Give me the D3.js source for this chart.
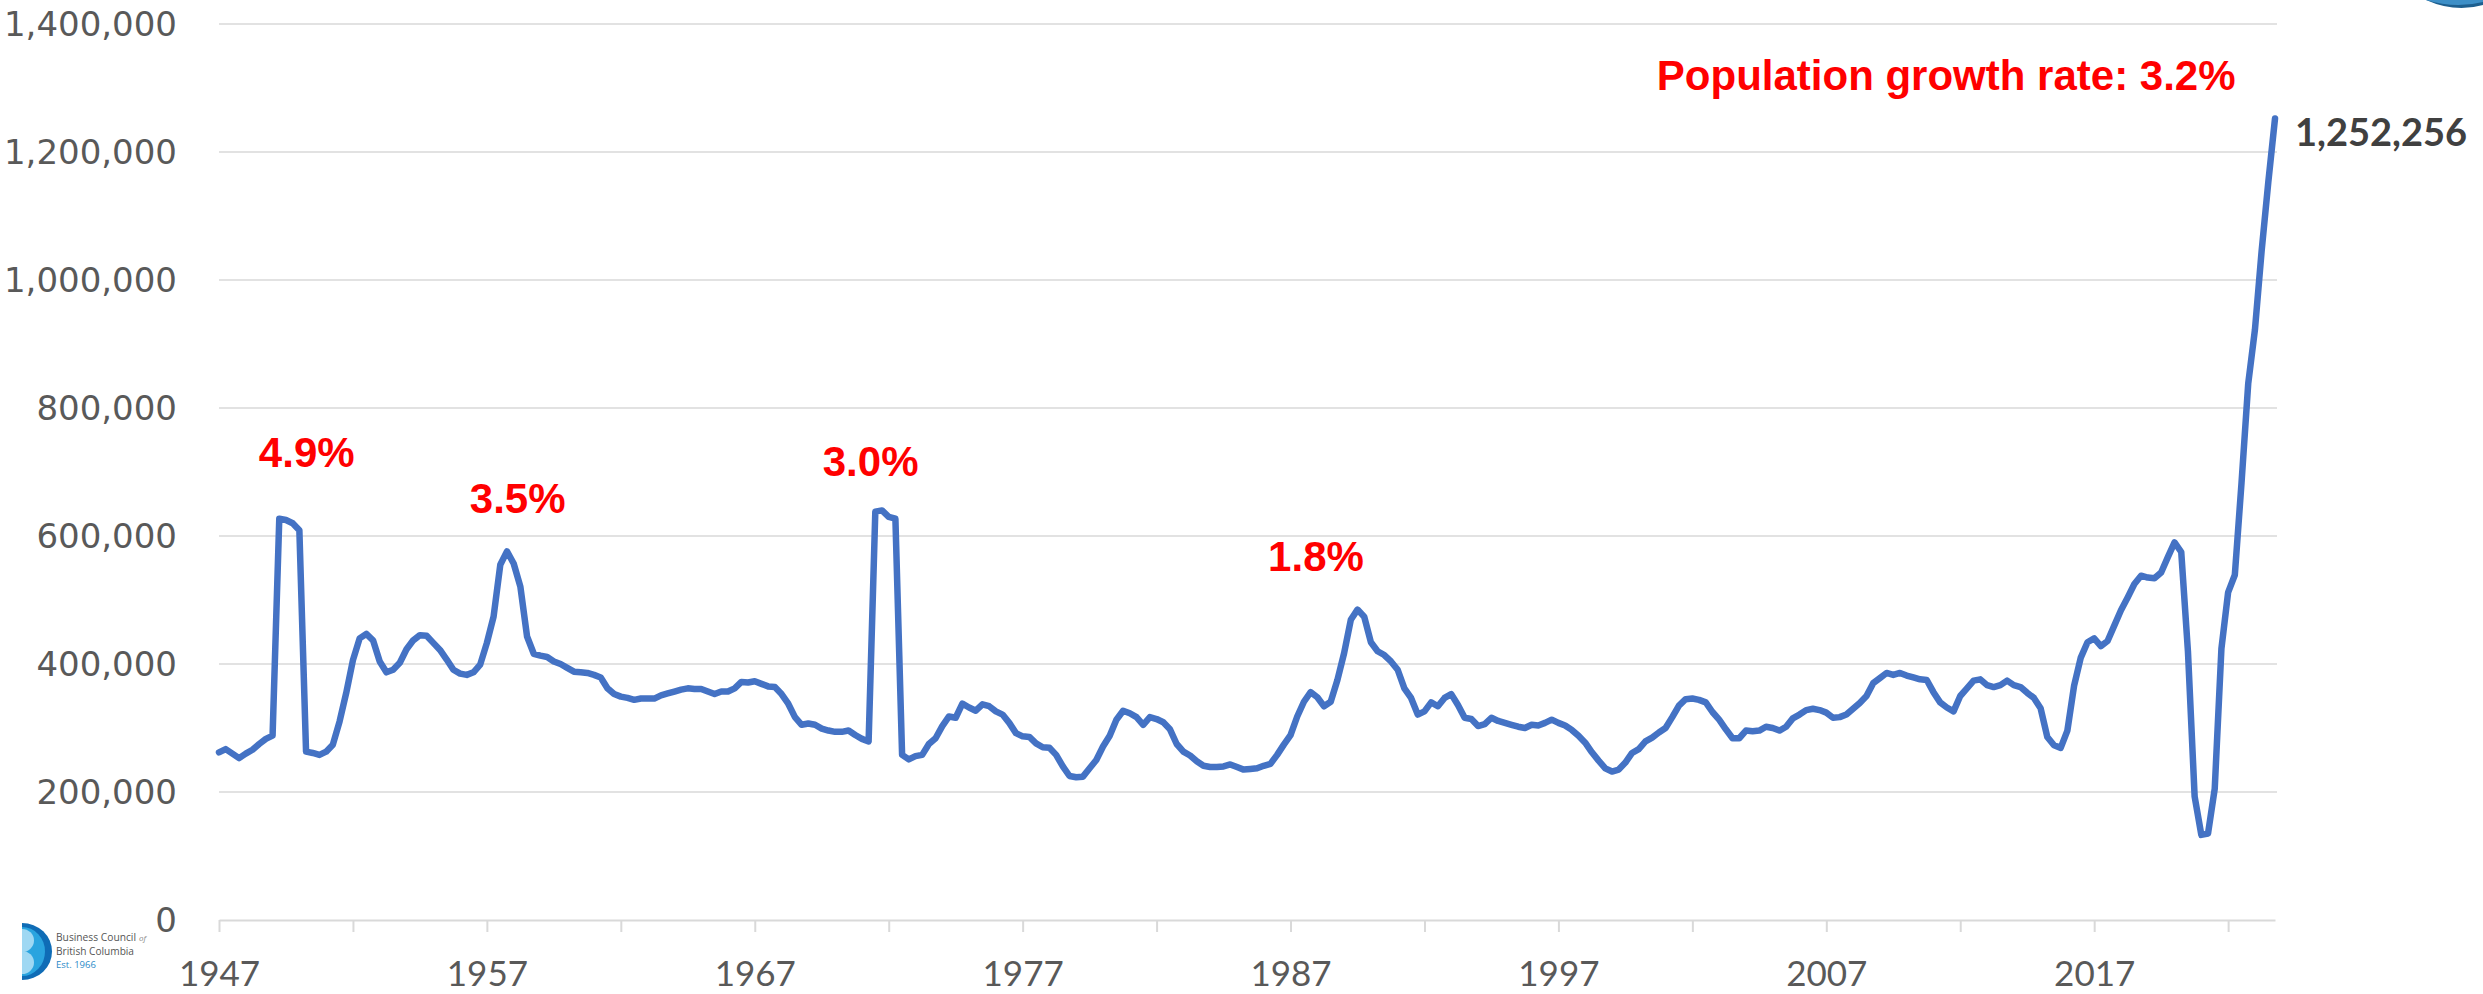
<!DOCTYPE html>
<html><head><meta charset="utf-8">
<script src="https://cdn.jsdelivr.net/npm/d3@7"></script>
<style>body{margin:0;background:#fff;} svg{display:block;}</style>
</head><body>
<svg id="chart" width="2483" height="994"></svg>
<script>
// Canada: year-over-year population growth, quarterly, 1947Q1 .. 2023Q4 (thousands of persons)
const startYear = 1947;
const growth1947to1956 = [262,267,260,253,260,266,275,283,288,627,625,620,609,263,261,258,263,274,310,355,
  406,440,447,437,404,387,391,402,423,437,445,444,433,422,407,391,385,383,387,399];
const growth1957to1966 = [433,474,555,576,557,521,443,416,413,411,404,400,394,388,387,386,383,379,362,353,
  349,347,344,346,346,346,351,354,357,360,362,361,361,357,353,357,357,362,372,371];
const growth1967to1976 = [373,369,365,364,353,338,317,305,307,305,299,296,294,294,296,289,283,279,638,640,
  630,627,258,251,256,258,275,284,303,318,316,338,332,327,337,334,326,321,308,292];
const growth1977to1986 = [287,286,276,270,269,258,240,225,223,224,237,250,271,288,313,327,323,317,305,317,
  314,309,298,275,263,257,248,241,239,239,240,243,239,235,236,237,241,244,258,274];
const growth1987to1996 = [289,318,341,356,348,334,341,375,417,469,485,474,434,420,414,404,391,362,347,321,
  326,340,334,347,353,336,316,314,303,306,316,311,308,305,302,300,305,304,308,313];
const growth1997to2006 = [308,304,297,288,277,262,249,237,232,235,246,261,267,279,285,293,300,317,335,345,
  346,344,340,325,313,298,284,284,296,295,296,302,300,296,302,315,321,328,330,328];
const growth2007to2016 = [324,316,317,321,330,339,350,370,378,386,383,386,382,379,376,375,356,340,332,326,
  350,362,374,376,367,364,367,374,367,364,355,347,331,286,273,269,296,366,410,434];
const growth2017to2023 = [440,428,436,460,484,504,525,538,535,534,543,567,590,575,420,193,133,135,205,424,
  512,539,683,838,922,1045,1153,1252.256];

const growth = [].concat(growth1947to1956, growth1957to1966, growth1967to1976, growth1977to1986,
  growth1987to1996, growth1997to2006, growth2007to2016, growth2017to2023).map(v => v * 1000);

const yTickValues = [0, 200000, 400000, 600000, 800000, 1000000, 1200000, 1400000];
const xTickLabels = ["1947", "1957", "1967", "1977", "1987", "1997", "2007", "2017"];
const xTickEvery = 20;   // quarters between tick marks
const xLabelEvery = 40;  // quarters between labels

// peak labels: text, quarter index, level (persons)
const peakLabels = [
  {text: "4.9%", q: 13.1, level: 708000},
  {text: "3.5%", q: 44.6, level: 636000},
  {text: "3.0%", q: 97.3, level: 694000},
  {text: "1.8%", q: 163.8, level: 545000},
  {text: "Population growth rate: 3.2%", q: 257.9, level: 1297000}
];
const lastLabel = "1,252,256";

const svg = d3.select("#chart");
svg.append("rect").attr("width", 2483).attr("height", 994).attr("fill", "#fff");

const x = d3.scaleLinear().domain([0, growth.length - 1]).range([219, 2275]);
const y = d3.scaleLinear().domain([0, 1400000]).range([920, 24]);

// gridlines
svg.append("g").selectAll("line").data(yTickValues.filter(v => v > 0)).join("line")
  .attr("x1", 219).attr("x2", 2277)
  .attr("y1", d => y(d)).attr("y2", d => y(d))
  .attr("stroke", "#d9d9d9").attr("stroke-width", 1.6);

// y labels
const fmt = d3.format(",");
svg.append("g").selectAll("text").data(yTickValues).join("text")
  .attr("x", 177).attr("y", d => y(d)).attr("dy", "0.36em")
  .attr("text-anchor", "end")
  .attr("font-family", "DejaVu Sans, sans-serif").attr("font-size", 34)
  .attr("fill", "#595959")
  .text(d => fmt(d));

// x axis
const tickIdx = d3.range(0, growth.length, xTickEvery);
const xAxis = d3.axisBottom(x).tickValues(tickIdx).tickSize(12).tickSizeOuter(0)
  .tickFormat(i => (i % xLabelEvery === 0) ? xTickLabels[i / xLabelEvery] : "");
const gx = svg.append("g").attr("transform", "translate(0,920)").call(xAxis);
gx.select(".domain").attr("stroke", "#d9d9d9").attr("stroke-width", 2.2);
gx.selectAll(".tick line").attr("stroke", "#d9d9d9").attr("stroke-width", 2);
gx.selectAll(".tick text").attr("y", 66).attr("dy", 0)
  .attr("font-family", "Lato, sans-serif").attr("font-size", 35).attr("fill", "#595959");

// line
const line = d3.line().x((d, i) => x(i)).y(d => y(d));
svg.append("path").datum(growth).attr("d", line)
  .attr("fill", "none").attr("stroke", "#4472C4").attr("stroke-width", 6.5)
  .attr("stroke-linejoin", "round").attr("stroke-linecap", "round");

// red labels
svg.append("g").selectAll("text").data(peakLabels).join("text")
  .attr("x", d => x(d.q)).attr("y", d => y(d.level))
  .attr("text-anchor", "middle")
  .attr("font-family", "Liberation Sans, Arial, sans-serif").attr("font-weight", "bold")
  .attr("font-size", 42).attr("fill", "#ff0000")
  .text(d => d.text);

// last value label
const li = growth.length - 1;
svg.append("text").attr("x", x(li) + 20).attr("y", y(growth[li]) + 27)
  .attr("font-family", "Lato, sans-serif").attr("font-weight", "bold")
  .attr("font-size", 38).attr("fill", "#404040").text(lastLabel);

// logo bottom-left
const logo = svg.append("g");
logo.append("path").attr("d", "M22,923 A30,28.5 0 0 1 22,980 Z").attr("fill", "#0f6cb6");
logo.append("path").attr("d", "M22,927 A23,24.5 0 0 1 22,976 Z").attr("fill", "#2aa4df");
logo.append("path").attr("d", "M22,929 A12,11.5 0 0 1 22,952 Z").attr("fill", "#9fd8f3");
logo.append("path").attr("d", "M22,951 A12,11.5 0 0 1 22,974 Z").attr("fill", "#9fd8f3");
logo.append("text").attr("x", 56).attr("y", 941).attr("font-family", "Open Sans, sans-serif")
  .attr("font-size", 11).attr("textLength", 80).attr("lengthAdjust", "spacingAndGlyphs")
  .attr("fill", "#555").text("Business Council");
logo.append("text").attr("x", 139).attr("y", 941).attr("font-family", "Open Sans, sans-serif")
  .attr("font-size", 8).attr("font-style", "italic").attr("fill", "#888").text("of");
logo.append("text").attr("x", 56).attr("y", 955).attr("font-family", "Open Sans, sans-serif")
  .attr("font-size", 11).attr("textLength", 78).attr("lengthAdjust", "spacingAndGlyphs")
  .attr("fill", "#555").text("British Columbia");
logo.append("text").attr("x", 56).attr("y", 968).attr("font-family", "Open Sans, sans-serif")
  .attr("font-size", 9.5).attr("fill", "#2a8ac8").text("Est. 1966");

// top-right corner swoosh
svg.append("path").attr("d", "M2426,0 Q2455,13 2483,5 L2483,0 Z").attr("fill", "#1d5f8f");
svg.append("path").attr("d", "M2426,0 Q2455,9 2483,2 L2483,0 Z").attr("fill", "#3d8fc7");
</script>
</body></html>
